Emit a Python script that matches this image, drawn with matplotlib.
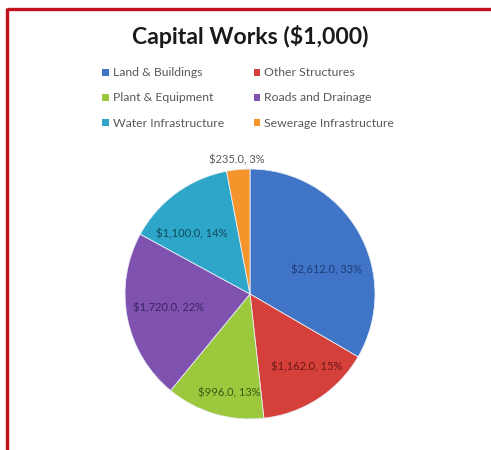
import numpy as np
import matplotlib
matplotlib.use("Agg")
import matplotlib.pyplot as plt
from matplotlib.lines import Line2D

plt.rcParams['font.family'] = ['Lato', 'DejaVu Sans']

categories = ["Land & Buildings", "Other Structures", "Plant & Equipment",
              "Roads and Drainage", "Water Infrastructure", "Sewerage Infrastructure"]
values = [2612.0, 1162.0, 996.0, 1720.0, 1100.0, 235.0]

colors = ["#3F74C6", "#D6403A", "#9CC83E", "#7F52B0", "#2EA6C9", "#F5942A"]
label_colors = ["#1E3C78", "#6A1815", "#3E5A14", "#3A2262", "#0E4B5E", "#595959"]
# radial position of each value label (fraction of radius) and angular nudge (deg)
label_r = [0.64, 0.74, 0.81, 0.66, 0.67, 1.08]
label_dang = [-12, 5, 5, -1, 8, 0]

W, H = 491, 450
fig = plt.figure(figsize=(W / 100, H / 100), dpi=100)
fig.patch.set_facecolor("white")

# red frame on the top and left edges
fig.add_artist(Line2D([6.5 / W, 1.0], [1 - 8.5 / H, 1 - 8.5 / H],
                      transform=fig.transFigure, color="#C0111A", lw=2.4,
                      solid_capstyle="butt"))
fig.add_artist(Line2D([6.5 / W, 6.5 / W], [0.0, 1 - 7.5 / H],
                      transform=fig.transFigure, color="#C0111A", lw=2.4,
                      solid_capstyle="butt"))

fig.text(250 / W, 1 - 37 / H, "Capital Works ($1,000)", ha="center", va="center",
         fontsize=16.6, fontweight="bold", color="#1a1a1a")

cx, cy, R = 250, 294, 125
ax = fig.add_axes([(cx - R) / W, (H - cy - R) / H, 2 * R / W, 2 * R / H])
wedges, _ = ax.pie(values, colors=colors, startangle=90, counterclock=False,
                   radius=1.0, wedgeprops=dict(edgecolor="#e8eef8", linewidth=0.6))
ax.set_xlim(-1, 1)
ax.set_ylim(-1, 1)
ax.set_axis_off()

total = sum(values)
for w, v, c, r, da in zip(wedges, values, label_colors, label_r, label_dang):
    mid = np.deg2rad((w.theta1 + w.theta2) / 2 + da)
    pct = v / total * 100
    ax.text(r * np.cos(mid), r * np.sin(mid), f"${v:,.1f}, {pct:.0f}%",
            ha="center", va="center", fontsize=8, color=c)

# legend filled row by row: reorder entries for matplotlib's column-major layout
handles = [plt.Rectangle((0, 0), 1, 1, facecolor=c, edgecolor="none") for c in colors]
order = [0, 2, 4, 1, 3, 5]
fig.legend([handles[i] for i in order], [categories[i] for i in order], ncol=2,
           loc="upper left", bbox_to_anchor=(100 / W, 1 - 65 / H), frameon=False,
           fontsize=8.8, labelcolor="#595959", handlelength=0.5, handleheight=0.5,
           handletextpad=0.35, columnspacing=2.45, labelspacing=1.15,
           borderaxespad=0.0, borderpad=0.2)

fig.savefig("out.png", dpi=100, facecolor="white")
